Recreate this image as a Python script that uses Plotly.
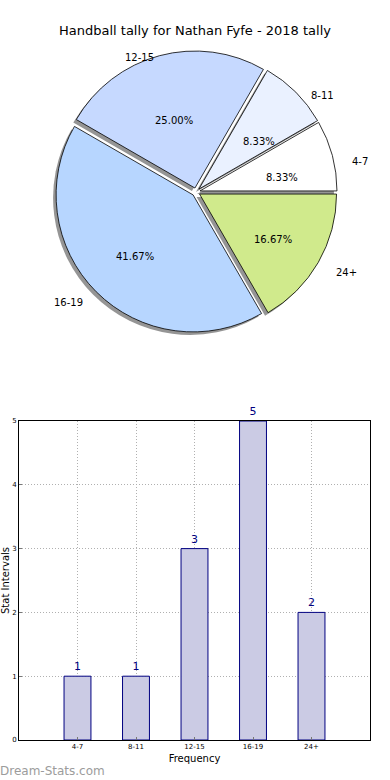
import numpy as np
import plotly.graph_objects as go

# ---------------- data ----------------
categories = ["4-7", "8-11", "12-15", "16-19", "24+"]
counts = [1, 1, 3, 5, 2]
slice_colors = ["#ffffff", "#eaf1ff", "#c6d9ff", "#b7d6ff", "#d0ea8c"]
y_ticks = [0, 1, 2, 3, 4, 5]
title_text = "Handball tally for Nathan Fyfe - 2018 tally"
x_title = "Frequency"
y_title = "Stat Intervals"
watermark = "Dream-Stats.com"

# ---------------- layout geometry (pixels) ----------------
W, H = 390, 780
FONT = "DejaVu Sans"
cx, cy = 196, 192          # pie centre
R = 137                    # pie radius
PULL = 0.03
half = R * (1 + PULL)
pie_x = [(cx - half) / W, (cx + half) / W]
pie_y = [1 - (cy + half) / H, 1 - (cy - half) / H]
sh_dx, sh_dy = -3, 3       # shadow offset
shadow_x = [pie_x[0] + sh_dx / W, pie_x[1] + sh_dx / W]
shadow_y = [pie_y[0] - sh_dy / H, pie_y[1] - sh_dy / H]

total = sum(counts)
# first slice starts at 3 o'clock and runs counter-clockwise
rotation = 90 - counts[0] / total * 360

fig = go.Figure()

# shadow of the pie
fig.add_trace(go.Pie(
    labels=categories, values=counts, sort=False, direction="counterclockwise",
    rotation=rotation, pull=[PULL] * len(counts), domain=dict(x=shadow_x, y=shadow_y),
    marker=dict(colors=["#959595"] * len(counts), line=dict(width=0)),
    textinfo="none", hoverinfo="skip", showlegend=False,
))
# the pie itself
fig.add_trace(go.Pie(
    labels=categories, values=counts, sort=False, direction="counterclockwise",
    rotation=rotation, pull=[PULL] * len(counts), domain=dict(x=pie_x, y=pie_y),
    marker=dict(colors=slice_colors, line=dict(color="#000000", width=0.8)),
    textinfo="none", showlegend=False,
))

# labels (outside) and percentages (inside), placed from cumulative angles
lab_cx, lab_cy = 197, 199
cum = np.cumsum([0] + counts)
rx_lab, ry_lab = 140, 129
annotations = []
for i, (cat, v) in enumerate(zip(categories, counts)):
    mid = np.deg2rad((cum[i] + v / 2) / total * 360)
    c, s = np.cos(mid), np.sin(mid)
    px0 = lab_cx + PULL * R * c
    py0 = lab_cy - PULL * R * s
    lx = px0 + 1.1 * rx_lab * c
    ly = py0 - 1.1 * ry_lab * s
    annotations.append(dict(
        x=lx / W, y=1 - ly / H, xref="paper", yref="paper", text=cat,
        showarrow=False, xanchor="left" if c > 0 else "right", yanchor="middle",
        font=dict(family=FONT, size=10, color="#000000"),
    ))
    tx = px0 + 0.6 * rx_lab * c
    ty = py0 - 0.6 * ry_lab * s
    annotations.append(dict(
        x=tx / W, y=1 - ty / H, xref="paper", yref="paper",
        text=f"{v / total * 100:.2f}%", showarrow=False,
        xanchor="center", yanchor="middle",
        font=dict(family=FONT, size=10, color="#000000"),
    ))

# bar chart
fig.add_trace(go.Bar(
    x=categories, y=counts, width=0.46,
    marker=dict(color="#cbcbe4", line=dict(color="#000080", width=1)),
    text=[str(v) for v in counts], textposition="outside",
    textfont=dict(family=FONT, size=11, color="#000080"),
    cliponaxis=False, showlegend=False, xaxis="x", yaxis="y",
))

annotations.append(dict(
    x=-2 / W, y=1 - 771 / H, xref="paper", yref="paper", text=watermark,
    showarrow=False, xanchor="left", yanchor="middle",
    font=dict(family=FONT, size=12, color="#9c9c9c"),
))

axis_common = dict(
    showline=True, linecolor="#000000", linewidth=1, mirror=True,
    showgrid=True, gridcolor="#b0b0b0", griddash="1px,2px", gridwidth=1,
    ticks="inside", ticklen=3, tickcolor="#777777",
    tickfont=dict(family=FONT, size=7, color="#000000"),
    zeroline=False, automargin=False,
)

fig.update_layout(
    width=W, height=H, autosize=False,
    margin=dict(l=0, r=0, t=0, b=0),
    paper_bgcolor="#ffffff", plot_bgcolor="#ffffff",
    font=dict(family=FONT, color="#000000"),
    title=dict(text=title_text, x=0.5, xanchor="center", y=1 - 30 / H,
               yanchor="middle", font=dict(family=FONT, size=13, color="#000000")),
    xaxis=dict(domain=[19 / W, 370 / W], anchor="y", type="category",
               range=[-1, 5],
               title=dict(text=x_title, font=dict(family=FONT, size=10), standoff=4),
               **axis_common),
    yaxis=dict(domain=[1 - 740 / H, 1 - 421 / H], anchor="x", range=[0, 5],
               tickvals=y_ticks,
               title=dict(text=y_title, font=dict(family=FONT, size=10), standoff=2),
               **axis_common),
    annotations=annotations,
)

fig.write_html("out.html", config={"displayModeBar": False},
               post_script="document.body.style.margin='0px';")
